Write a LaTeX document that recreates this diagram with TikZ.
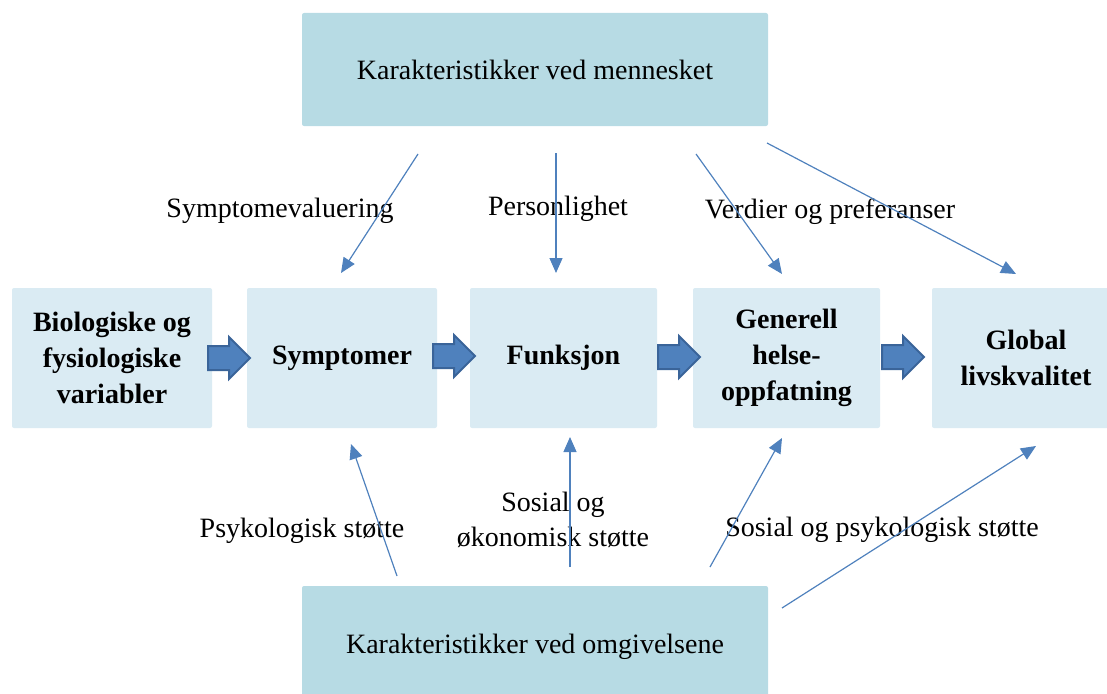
\documentclass[tikz,border=0pt]{standalone}
\usepackage{fontspec}
\setmainfont{Liberation Serif}
\usetikzlibrary{shapes.arrows,arrows.meta}
\definecolor{outerbox}{HTML}{B7DBE4}
\definecolor{innerbox}{HTML}{DAEBF3}
\definecolor{linkblue}{HTML}{4F81BD}
\definecolor{blockfill}{HTML}{4F81BD}
\definecolor{blockline}{HTML}{3A6499}
\begin{document}
\begin{tikzpicture}[x=1pt,y=-1pt,
  every node/.style={font=\fontsize{28}{35}\selectfont},
  outer/.style={rectangle,rounded corners=2pt,fill=outerbox,minimum width=466pt,minimum height=113pt,inner sep=0pt},
  inner/.style={rectangle,rounded corners=2pt,fill=innerbox,minimum height=140pt,inner sep=0pt,align=center,font=\fontsize{28}{36}\selectfont\bfseries},
  flow/.style={single arrow,fill=blockfill,draw=blockline,line width=2pt,inner xsep=0pt,inner ysep=11pt,text height=0pt,text depth=0pt,text width=0pt,single arrow head extend=9pt,minimum height=42pt,anchor=tail},
  link/.style={draw=linkblue,line width=1.2pt,-{Triangle[length=15pt,width=13pt]}},
  lbl/.style={anchor=base}]
\useasboundingbox (0,0) rectangle (1107,693);
\clip (0,0) rectangle (1107,693);

% outer boxes
\node[outer] (top) at (535,69.5) {Karakteristikker ved mennesket};
\node[outer] (bot) at (535,642.5) {};
\node[anchor=base] (bottxt) at (535,653) {Karakteristikker ved omgivelsene};

% middle boxes
\node[inner,minimum width=200pt] (bio) at (112,358) {Biologiske og\\fysiologiske\\variabler};
\node[inner,minimum width=190pt] (sym) at (342,358) {Symptomer};
\node[inner,minimum width=187pt] (fun) at (563.5,358) {Funksjon};
\node[inner,minimum width=187pt] (gen) at (786.5,358) {Generell\\helse-\\oppfatning};
\node[inner,minimum width=188pt] (glo) at (1026,358) {Global\\livskvalitet};

% block arrows
\node[flow] (f1) at (207,358) {};
\node[flow] (f2) at (432,356) {};
\node[flow] (f3) at (657,357) {};
\node[flow] (f4) at (881,357) {};

% link end points
\coordinate (s1) at (418,154);  \coordinate (e1) at (341,273);
\coordinate (s2) at (556,153);  \coordinate (e2) at (556,273);
\coordinate (s3) at (696,154);  \coordinate (e3) at (782,274);
\coordinate (s4) at (767,143);  \coordinate (e4) at (1016,274);
\coordinate (s5) at (397,576);  \coordinate (e5) at (351,444);
\coordinate (s6) at (570,567);  \coordinate (e6) at (570,437);
\coordinate (s7) at (710,567);  \coordinate (e7) at (782,438);
\coordinate (s8) at (782,608);  \coordinate (e8) at (1036,446);

% labels
\node[lbl] (l1) at (280,217) {Symptomevaluering};
\node[lbl] (l2) at (558,215) {Personlighet};
\node[lbl] (l3) at (830,218) {Verdier og preferanser};
\node[lbl] (l5) at (302,537) {Psykologisk støtte};
\node[align=center] (l6) at (553,520) {Sosial og\\økonomisk støtte};
\node[lbl] (l7) at (882,536) {Sosial og psykologisk støtte};

% links
\draw[link] (s1) -- (e1);
\draw[link] (s2) -- (e2);
\draw[link] (s3) -- (e3);
\draw[link] (s4) -- (e4);
\draw[link] (s5) -- (e5);
\draw[link] (s6) -- (e6);
\draw[link] (s7) -- (e7);
\draw[link] (s8) -- (e8);
\end{tikzpicture}
\end{document}
